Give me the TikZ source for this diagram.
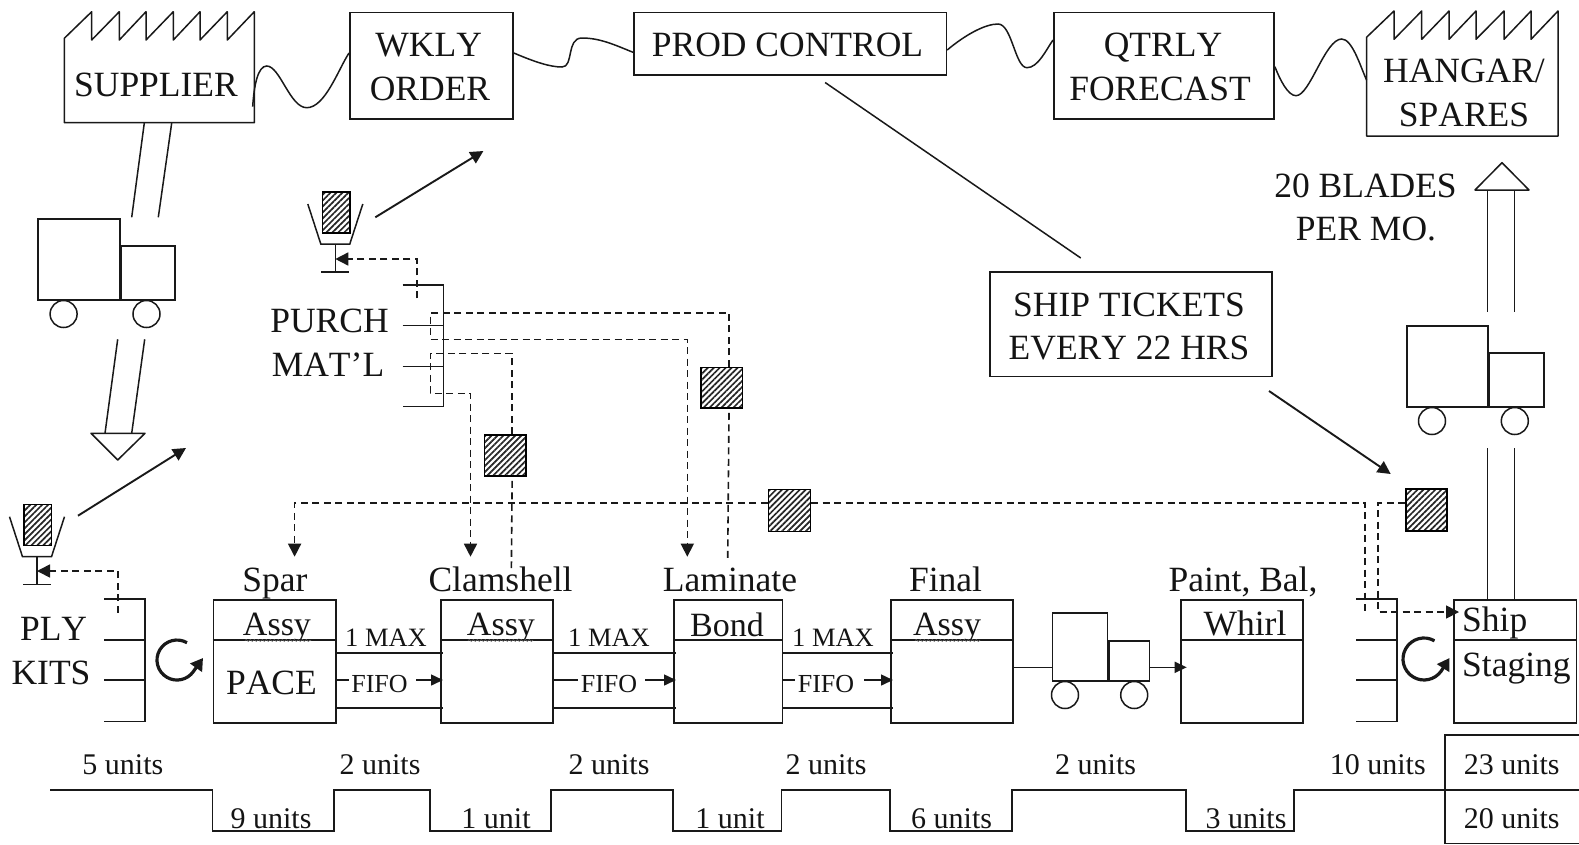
\documentclass[tikz,border=0pt]{standalone}
\usepackage{fontspec}
\setmainfont[Kerning=Off]{Liberation Serif}
\usetikzlibrary{arrows.meta,patterns.meta,decorations.pathmorphing}
\tikzset{
  ln/.style={line width=1.5pt,black!90},
  boxn/.style={draw=black!90,line width=1.5pt,inner sep=0pt,anchor=north west},
  big/.style={anchor=base,inner sep=0pt,font=\fontsize{35.5}{36}\selectfont,text=black!92},
  mid/.style={anchor=base,inner sep=0pt,font=\fontsize{34}{36}\selectfont,text=black!92},
  unt/.style={anchor=base,inner sep=0pt,font=\fontsize{30}{32}\selectfont,text=black!92},
  sml/.style={anchor=base,inner sep=0pt,font=\fontsize{26.5}{28}\selectfont,text=black!92},
  fif/.style={anchor=base,inner sep=0pt,font=\fontsize{26}{28}\selectfont,text=black!92},
  dsh/.style={line width=1.6pt,black!90,dash pattern=on 7pt off 4.5pt},
  tip/.style={-{Triangle[length=13pt,width=13pt]}},
  small tip/.style={-{Triangle[length=12pt,width=11pt]}},
  hat/.style={draw=black,line width=1.5pt,inner sep=0pt,anchor=north west,
    pattern={Lines[angle=45,distance=4.2pt,line width=1.7pt]},pattern color=black!85},
  wig/.style={line width=1.5pt,black!90},
  whl/.style={draw=black!90,line width=1.5pt,circle,inner sep=0pt,minimum size=27pt},
  refr/.style={line width=3.2pt,black!90,-{Triangle[length=12pt,width=14pt]}},
  squig/.style={line width=.6pt,black!60,decorate,decoration={snake,amplitude=1pt,segment length=4pt}}
}
% #1 prefix, #2 x, #3 y, #4 body w, #5 body h, #6 cab w, #7 cab h, #8 first wheel offset
\newcommand{\truckat}[8]{%
  \node[boxn,minimum width=#4pt,minimum height=#5pt] (#1body) at (#2,#3) {};
  \node[boxn,anchor=south west,minimum width=#6pt,minimum height=#7pt] (#1cab) at (#1body.south east) {};
  \node[whl] (#1wa) at ([xshift=#8pt,yshift=-13.5pt]#1body.south west) {};
  \node[whl] (#1wb) at ([xshift=26pt,yshift=-13.5pt]#1body.south east) {};
}
% #1 prefix, #2 x of stem, #3 y of top of the bin
\newcommand{\postat}[3]{%
  \node[hat,minimum width=27.5pt,minimum height=41pt] (#1card) at (#2-13.8,#3-13) {};
  \draw[ln] (#2-27.5,#3) -- (#2-14.5,#3+40) -- (#2+14.5,#3+40) -- (#2+27.5,#3);
  \coordinate (#1stemtop) at (#2,#3+40);
  \coordinate (#1stembot) at (#2,#3+68);
  \draw[ln] (#1stemtop) -- (#1stembot);
  \draw[ln] (#2-14,#3+68) -- (#2+14,#3+68);
}
\begin{document}
\begin{tikzpicture}[x=1pt,y=-1pt]
\useasboundingbox (0,0) rectangle (1579,844);
\fill[white] (0,0) rectangle (1579,844);

% factories
\draw[ln,line join=round] (64.3,38.3) -- (91.7,11.7) -- (91.7,40) -- (119.3,11.7) -- (119.3,40) -- (146,11.7) -- (146,40) -- (173.3,11.7) -- (173.3,40) -- (200,11.7) -- (200,40) -- (227.3,11.7) -- (227.3,40) -- (254.3,11.7) -- (254.3,122.7) -- (64.3,122.7) -- cycle;
\draw[ln,line join=round] (1366.5,37.3) -- (1394,11) -- (1394,39.3) -- (1421.7,11) -- (1421.7,39.3) -- (1449,11) -- (1449,39.3) -- (1476,11) -- (1476,39.3) -- (1504,11) -- (1504,39.3) -- (1531,11) -- (1531,39.3) -- (1558,11) -- (1558,136) -- (1366.5,136) -- cycle;
\coordinate (supe) at (252.7,106.7);
\coordinate (hanw) at (1366.5,80);

% top boxes
\node[boxn,minimum width=163.3pt,minimum height=106.6pt] (wkly) at (349,11.7) {};
\node[boxn,minimum width=312.7pt,minimum height=62.3pt] (prod) at (633,11.7) {};
\node[boxn,minimum width=220.4pt,minimum height=106.3pt] (qtrly) at (1053,11.7) {};
\node[boxn,minimum width=282pt,minimum height=104.6pt] (tick) at (989,271) {};

\node[big] (tsup) at (156,96) {SUPPLIER};
\node[big] (twk) at (428.7,56) {WKLY};
\node[big] (tor) at (430,100.7) {ORDER};
\node[big] (tpr) at (787.5,56) {PROD CONTROL};
\node[big] (tqt) at (1163,56) {QTRLY};
\node[big] (tfo) at (1160,100.7) {FORECAST};
\node[big] (tha) at (1464,82.3) {HANGAR/};
\node[big] (tsp) at (1464,126) {SPARES};
\node[big] (tbl) at (1365.5,197) {20 BLADES};
\node[big] (tpe) at (1366,240.7) {PER MO.};
\node[big] (tsh) at (1129,316) {SHIP TICKETS};
\node[big] (tev) at (1129,359.5) {EVERY 22 HRS};
\node[big] (tpu) at (329.5,332.7) {PURCH};
\node[big] (tma) at (328,376) {MAT’L};
\node[big] (tpl) at (53.6,640) {PLY};
\node[big] (tki) at (51,684) {KITS};

% wiggles
\draw[wig] (supe) .. controls (254,85) and (258,66) .. (266.7,66) .. controls (280,66) and (290,107.7) .. (306.7,107.7) .. controls (325,107.7) and (338,70) .. (wkly.west |- 0,53);
\draw[wig] (wkly.east |- 0,53) .. controls (535,62) and (550,67) .. (562,67) .. controls (574,67) and (566,38) .. (582,38) .. controls (600,38) and (615,45) .. (prod.west |- 0,52.3);
\draw[wig] (prod.east |- 0,50) .. controls (965,35) and (985,24) .. (998,24) .. controls (1012,24) and (1015,67.7) .. (1027,67.7) .. controls (1038,67.7) and (1046,50) .. (qtrly.west |- 0,40);
\draw[wig] (qtrly.east |- 0,66.7) .. controls (1280,80) and (1288,95.7) .. (1296,95.7) .. controls (1310,95.7) and (1325,39) .. (1341.7,39) .. controls (1352,39) and (1360,65) .. (hanw);

\coordinate (prodline) at ([xshift=35pt]prod.south);
\draw[ln] ([yshift=-7pt]prodline) -- ([xshift=-50pt,yshift=13pt]tick.north);

% supplier shipment
\draw[ln] (144.3,123) -- (131.7,217.3);
\draw[ln] (171.7,123) -- (158.3,217.3);
\truckat{a}{37.3}{218.3}{81.7}{80.7}{53.7}{54}{26.3}
\draw[ln] (117.7,339.3) -- (105,433.3);
\draw[ln] (144.7,339.3) -- (131.7,433.3);
\draw[ln,line join=round] (91,433.3) -- (145,433.3) -- (117.7,460) -- cycle;

% hangar shipment
\draw[ln,line join=round] (1475,190) -- (1529,190) -- (1502,162.7) -- cycle;
\coordinate (sha) at (1487.3,190);
\coordinate (shb) at (1514.7,190);
\draw[ln] (sha) -- (1487.3,312);
\draw[ln] (shb) -- (1514.7,312);
\truckat{b}{1406}{325}{81.3}{81}{54.4}{53.7}{26}
\draw[ln] (1487.3,448) -- (1487.3,598.5);
\draw[ln] (1514.7,448) -- (1514.7,598.5);

% process boxes
\foreach \nm/\xa/\bw in {spar/212.5/122.5,clam/440/112,lam/673/108.5,fin/890/122,pnt/1180/122,shp/1453/122.7}{
  \node[boxn,minimum width=\bw pt,minimum height=123pt] (\nm) at (\xa,599) {};
  \draw[ln] (\xa,640) -- (\xa+\bw,640);
}
\node[big] (lsp) at (275,591.7) {Spar};
\node[big] (lcl) at (500.5,591.7) {Clamshell};
\node[big] (lla) at (730,591.7) {Laminate};
\node[big] (lfi) at (945.6,591.7) {Final};
\node[big] (lpa) at (1243,591.7) {Paint, Bal,};
\begin{scope}
  \clip (200,590) rectangle (1030,640);
  \node[mid] (as1) at (277,635) {Assy};
  \node[mid] (as2) at (501,635) {Assy};
  \node[mid] (as3) at (947,635) {Assy};
\end{scope}
\draw[squig] (245,640.5) -- (311,640.5);
\draw[squig] (468,640.5) -- (533,640.5);
\draw[squig] (915,640.5) -- (980,640.5);
\node[mid] (bo) at (727,636) {Bond};
\node[big] (wh) at (1245,635) {Whirl};
\node[big,anchor=base west] (si) at (1462,631.7) {Ship};
\node[big,anchor=base west] (st) at (1462,676.7) {Staging};
\node[big] (pa) at (271.4,694) {PACE};

% FIFO lanes
\draw[ln] (spar.east |- 0,653) -- (443,653);
\draw[ln] (spar.east |- 0,708) -- (443,708);
\draw[ln] (clam.east |- 0,653) -- (676,653);
\draw[ln] (clam.east |- 0,708) -- (676,708);
\draw[ln] (lam.east |- 0,653) -- (893,653);
\draw[ln] (lam.east |- 0,708) -- (893,708);
\draw[ln] (spar.east |- 0,680) -- (349,680);
\draw[ln] (clam.east |- 0,680) -- (578,680);
\draw[ln] (lam.east |- 0,680) -- (795,680);
\draw[ln,small tip] (416,680) -- (443,680);
\draw[ln,small tip] (645,680) -- (676,680);
\draw[ln,small tip] (864,680) -- (893,680);
\node[sml] (m1) at (386,646.7) {1 MAX};
\node[sml] (m2) at (609,646.7) {1 MAX};
\node[sml] (m3) at (833,646.7) {1 MAX};
\node[fif] (f1) at (379.5,692.5) {FIFO};
\node[fif] (f2) at (609,692.5) {FIFO};
\node[fif] (f3) at (826,692.5) {FIFO};

% middle truck
\truckat{c}{1051.7}{612.3}{55}{67.7}{40.6}{40}{13.3}
\draw[ln] (fin.east |- 0,667.3) -- (cbody.west |- 0,667.3);
\draw[ln,small tip] (ccab.east |- 0,667.3) -- (1186.7,667.3);

% inventories
\foreach \xr/\xl in {145/104,1397/1356}{
  \draw[ln] (\xl,599) -- (\xr,599) -- (\xr,721.7) -- (\xl,721.7);
  \draw[ln] (\xl,640) -- (\xr,640);
  \draw[ln] (\xl,680) -- (\xr,680);
}
\draw[ln] (402.7,285) -- (443.7,285) -- (443.7,406.7) -- (402.7,406.7);
\draw[ln] (402.7,325.7) -- (443.7,325.7);
\draw[ln] (402.7,366.7) -- (443.7,366.7);

% refresh arrows
\coordinate (ra) at (187,642.7);
\coordinate (rat) at (203,658);
\draw[refr] (ra) arc[start angle=60,end angle=325,radius=20pt] -- (rat);
\coordinate (rb) at (1434.5,640.8);
\coordinate (rbt) at (1449.5,658);
\draw[refr] (rb) arc[start angle=60,end angle=325,radius=21pt] -- (rbt);

% kanban posts
\postat{p}{37}{516.7}
\postat{q}{335.3}{204}
\draw[dsh,-{Triangle[length=13pt,width=13pt]}] (118,612.7) |- (pstemtop |- 0,571) ;
\draw[dsh,-{Triangle[length=13pt,width=13pt]}] (417,298.3) |- (qstemtop |- 0,259);
\draw[ln,line width=1.9pt,tip] (78,515.7) -- (186,448);
\draw[ln,line width=1.9pt,tip] (375.3,217.3) -- (483.4,151);
\draw[ln,line width=1.9pt,tip] (1269,391) -- (1390.7,474);

% hatched kanban cards
\node[hat,minimum width=41.7pt,minimum height=41.3pt] (kcl) at (483.5,434) {};
\node[hat,minimum width=41.7pt,minimum height=40.6pt] (kla) at (700,366.7) {};
\node[hat,minimum width=42pt,minimum height=42pt] (kmi) at (767.5,488.5) {};
\node[hat,minimum width=41pt,minimum height=42pt] (ksh) at (1405,488) {};

% dashed signal lines
\draw[dsh,tip] ([xshift=7.4pt]kla.north) |- (430.3,312.7) -- (430.3,339.3) -| (687.3,556.7);
\draw[dsh,tip] ([xshift=7pt]kcl.north) |- (430.3,353.3) -- (430.3,393.3) -| (470.5,556.7);
\coordinate (kla end) at (727.7,558);
\coordinate (kcl end) at (511.4,568);
\draw[dsh] ([xshift=7.4pt,yshift=-4pt]kla.south) -- (kla end);
\draw[dsh] ([xshift=7pt,yshift=-4pt]kcl.south) -- (kcl end);
\draw[dsh,tip] (kmi.west |- 0,502.7) -| (294.6,556.7);
\draw[dsh] (kmi.east |- 0,502.7) -| (1365,612);
\draw[dsh,tip] (ksh.west |- 0,502.7) -| (1378,612) -- (1459,612);

% time line
\draw[ln] (50,790) -- (212.5,790) -- (212.5,831) -- (334,831) -- (334,790) -- (430,790) -- (430,831) -- (551,831) -- (551,790) -- (673,790) -- (673,831) -- (781.5,831) -- (781.5,790) -- (890,790) -- (890,831) -- (1012,831) -- (1012,790) -- (1186,790) -- (1186,831) -- (1294,831) -- (1294,790) -- (1579,790);
\draw[ln] (1579,735) -- (1445,735) -- (1445,843.3) -- (1579,843.3);
\node[unt] (u1) at (122.9,774) {5 units};
\node[unt] (u2) at (380,774) {2 units};
\node[unt] (u3) at (609,774) {2 units};
\node[unt] (u4) at (826,774) {2 units};
\node[unt] (u5) at (1095.6,774) {2 units};
\node[unt] (u6) at (1377.8,774) {10 units};
\node[unt] (u7) at (1511.7,774) {23 units};
\node[unt] (d1) at (271,828.3) {9 units};
\node[unt] (d2) at (496,828.3) {1 unit};
\node[unt] (d3) at (730,828.3) {1 unit};
\node[unt] (d4) at (951.6,828.3) {6 units};
\node[unt] (d5) at (1246,828.3) {3 units};
\node[unt] (d6) at (1511.7,828.3) {20 units};
\end{tikzpicture}
\end{document}
